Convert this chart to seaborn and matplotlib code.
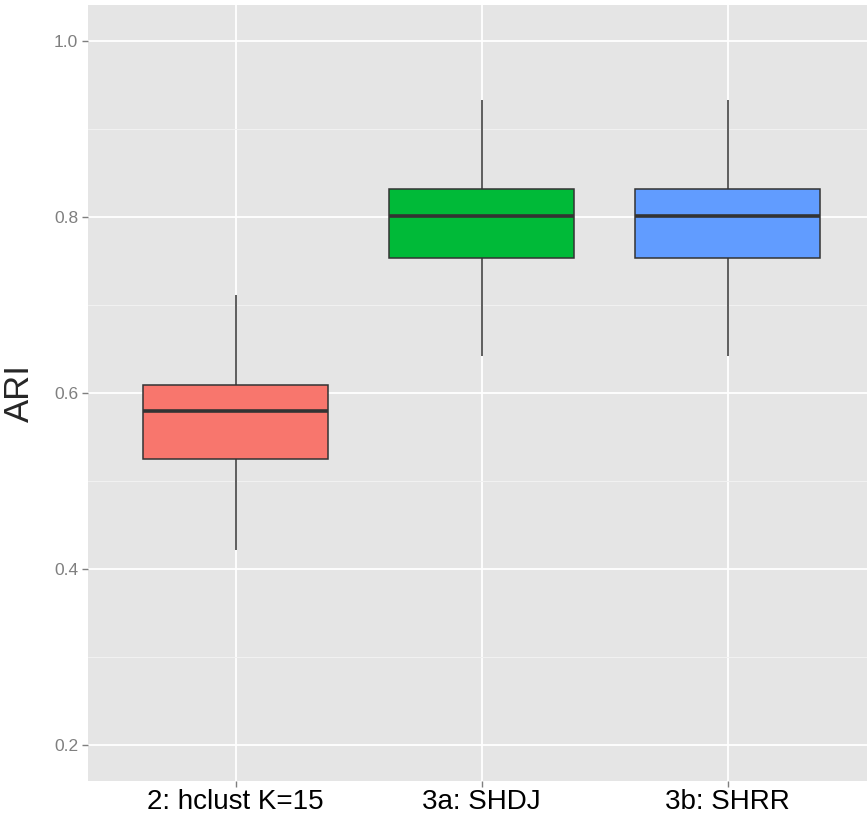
import numpy as np
import pandas as pd
import seaborn as sns
import matplotlib.pyplot as plt

# box stats: whisker low, Q1, median, Q3, whisker high
methods = ['2: hclust K=15', '3a: SHDJ', '3b: SHRR']
hclust = [0.422, 0.525, 0.580, 0.609, 0.711]
shdj = [0.642, 0.753, 0.801, 0.832, 0.933]
shrr = [0.642, 0.753, 0.801, 0.832, 0.933]
colors = ['#F8766D', '#00BA38', '#619CFF']

df = pd.DataFrame({
    'method': np.repeat(methods, 5),
    'ARI': hclust + shdj + shrr,
})

sns.set_theme(style='darkgrid')
plt.rcParams['font.family'] = ['Liberation Sans', 'DejaVu Sans']

fig = plt.figure(figsize=(8.67, 8.18), dpi=100)
ax = fig.add_axes([88 / 867, 37 / 818, 779 / 867, 776 / 818])
ax.set_facecolor('#E5E5E5')

sns.boxplot(data=df, x='method', y='ARI', hue='method', palette=colors,
            saturation=1, width=0.75, whis=(0, 100), showcaps=False,
            linecolor='#333333', linewidth=1.1, medianprops={'linewidth': 2.6},
            legend=False, ax=ax)

ax.set_xlim(-0.6, 2.567)
ax.set_ylim(0.159, 1.041)
ax.set_yticks([0.2, 0.4, 0.6, 0.8, 1.0])
ax.set_yticks([0.3, 0.5, 0.7, 0.9], minor=True)
ax.set_yticklabels(['0.2', '0.4', '0.6', '0.8', '1.0'])
ax.grid(which='major', color='white', linewidth=1.3)
ax.grid(which='minor', axis='y', color='#F2F2F2', linewidth=0.7)
ax.set_axisbelow(True)
for s in ax.spines.values():
    s.set_visible(False)

ax.tick_params(axis='y', which='major', length=4, width=1, color='#7F7F7F',
               labelsize=12.5, labelcolor='#7F7F7F', pad=3, left=True)
ax.tick_params(axis='y', which='minor', length=0)
ax.tick_params(axis='x', length=4, width=1, color='#7F7F7F',
               labelsize=20, labelcolor='black', pad=2, bottom=True)
ax.set_xlabel('')
ax.set_ylabel('ARI', fontsize=25, labelpad=13)

fig.savefig('out.png', dpi=100)
